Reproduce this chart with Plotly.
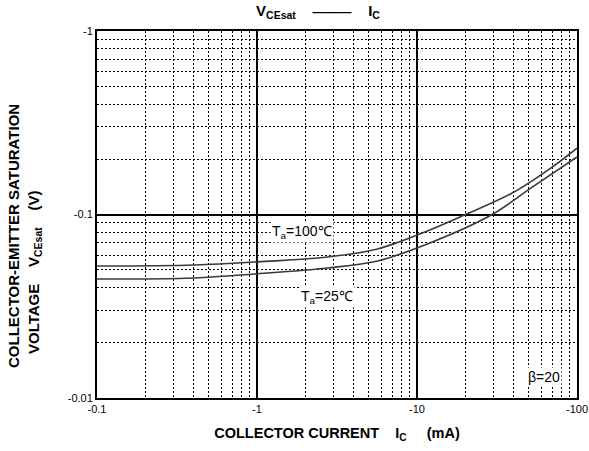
import plotly.graph_objects as go

# collector current (mA, magnitude) and VCE(sat) (V, magnitude)
ic_100 = [0.1, 0.408, 0.967, 2.76, 5.66, 11.6, 19.8, 39.4, 70, 100]
vce_100 = [0.0524, 0.0531, 0.0551, 0.0587, 0.0649, 0.0813, 0.0994, 0.131, 0.1815, 0.230]

ic_25 = [0.1, 0.408, 0.967, 2.76, 5.66, 11.6, 29.1, 52.5, 100]
vce_25 = [0.0445, 0.0451, 0.0474, 0.0511, 0.0558, 0.0691, 0.0994, 0.141, 0.206]

x_ticks = [0.1, 1, 10, 100]
x_labels = ["-0.1", "-1", "-10", "-100"]
y_ticks = [0.01, 0.1, 1]
y_labels = ["-0.01", "-0.1", "-1"]

x_minor = [m * 10 ** e for e in (-1, 0, 1) for m in range(2, 10)]
y_minor = [m * 10 ** e for e in (-2, -1) for m in range(2, 10)]

font = "Liberation Sans, Arial, sans-serif"

fig = go.Figure()
fig.add_trace(go.Scatter(x=ic_100, y=vce_100, mode="lines", line=dict(color="#3a3a3a", width=1.6, shape="spline")))
fig.add_trace(go.Scatter(x=ic_25, y=vce_25, mode="lines", line=dict(color="#3a3a3a", width=1.6, shape="spline")))

axis_common = dict(
    showline=True, linecolor="black", linewidth=2, mirror=True,
    showgrid=True, gridcolor="black", gridwidth=1.5,
    ticks="", zeroline=False, automargin=False,
    tickfont=dict(family=font, size=11, color="black"),
)
minor_grid = dict(showgrid=True, gridcolor="black", griddash="2px,2px", gridwidth=1)

fig.update_xaxes(
    type="log", range=[-1, 2], tickvals=x_ticks, ticktext=x_labels,
    minor=dict(tickvals=x_minor, **minor_grid),
    title=dict(text="<b>COLLECTOR CURRENT    I<sub>C</sub>     (mA)</b>", font=dict(family=font, size=14.5, color="black"), standoff=14),
    **axis_common,
)
fig.update_yaxes(
    type="log", range=[-2, 0], tickvals=y_ticks, ticktext=y_labels,
    minor=dict(tickvals=y_minor, **minor_grid),
    **axis_common,
)

L, R, T, B = 97, 12, 31, 53
plot_w = 589 - L - R
plot_h = 451 - T - B

# y-axis title as two rotated lines (positions in page pixels)
ytitle_lines = ["<b>COLLECTOR-EMITTER SATURATION</b>", "<b>VOLTAGE    V<sub>CEsat</sub>    (V)</b>"]
ytitle_px = [(14, 236), (34, 273)]
for txt, (px, py) in zip(ytitle_lines, ytitle_px):
    fig.add_annotation(x=(px - L) / plot_w, y=(451 - B - py) / plot_h, xref="paper", yref="paper",
                       xanchor="center", yanchor="middle", text=txt, textangle=-90, showarrow=False,
                       font=dict(family=font, size=15, color="black"))

fig.add_annotation(x=0.28, y=-1.095, xref="x", yref="y", text="T<sub>a</sub>=100℃", showarrow=False,
                   font=dict(family=font, size=14, color="black"), bgcolor="white")
fig.add_annotation(x=0.44, y=-1.45, xref="x", yref="y", text="T<sub>a</sub>=25℃", showarrow=False,
                   font=dict(family=font, size=14, color="black"), bgcolor="white")
fig.add_annotation(x=1.795, y=-1.886, xref="x", yref="y", text="β=20", showarrow=False,
                   font=dict(family=font, size=14, color="black"), bgcolor="white")

fig.update_layout(
    width=589, height=451,
    margin=dict(l=L, r=R, t=T, b=B, autoexpand=False),
    paper_bgcolor="white", plot_bgcolor="white",
    showlegend=False,
    title=dict(text="<b>V<sub>CEsat</sub>    <span style='font-size:13px'>———</span>    I<sub>C</sub></b>",
               x=318 / 589, xanchor="center", y=1 - 11 / 451, yanchor="middle",
               font=dict(family=font, size=15, color="black")),
)

fig.write_html("out.html", config={"displayModeBar": False},
               post_script="document.body.style.margin='0';")
